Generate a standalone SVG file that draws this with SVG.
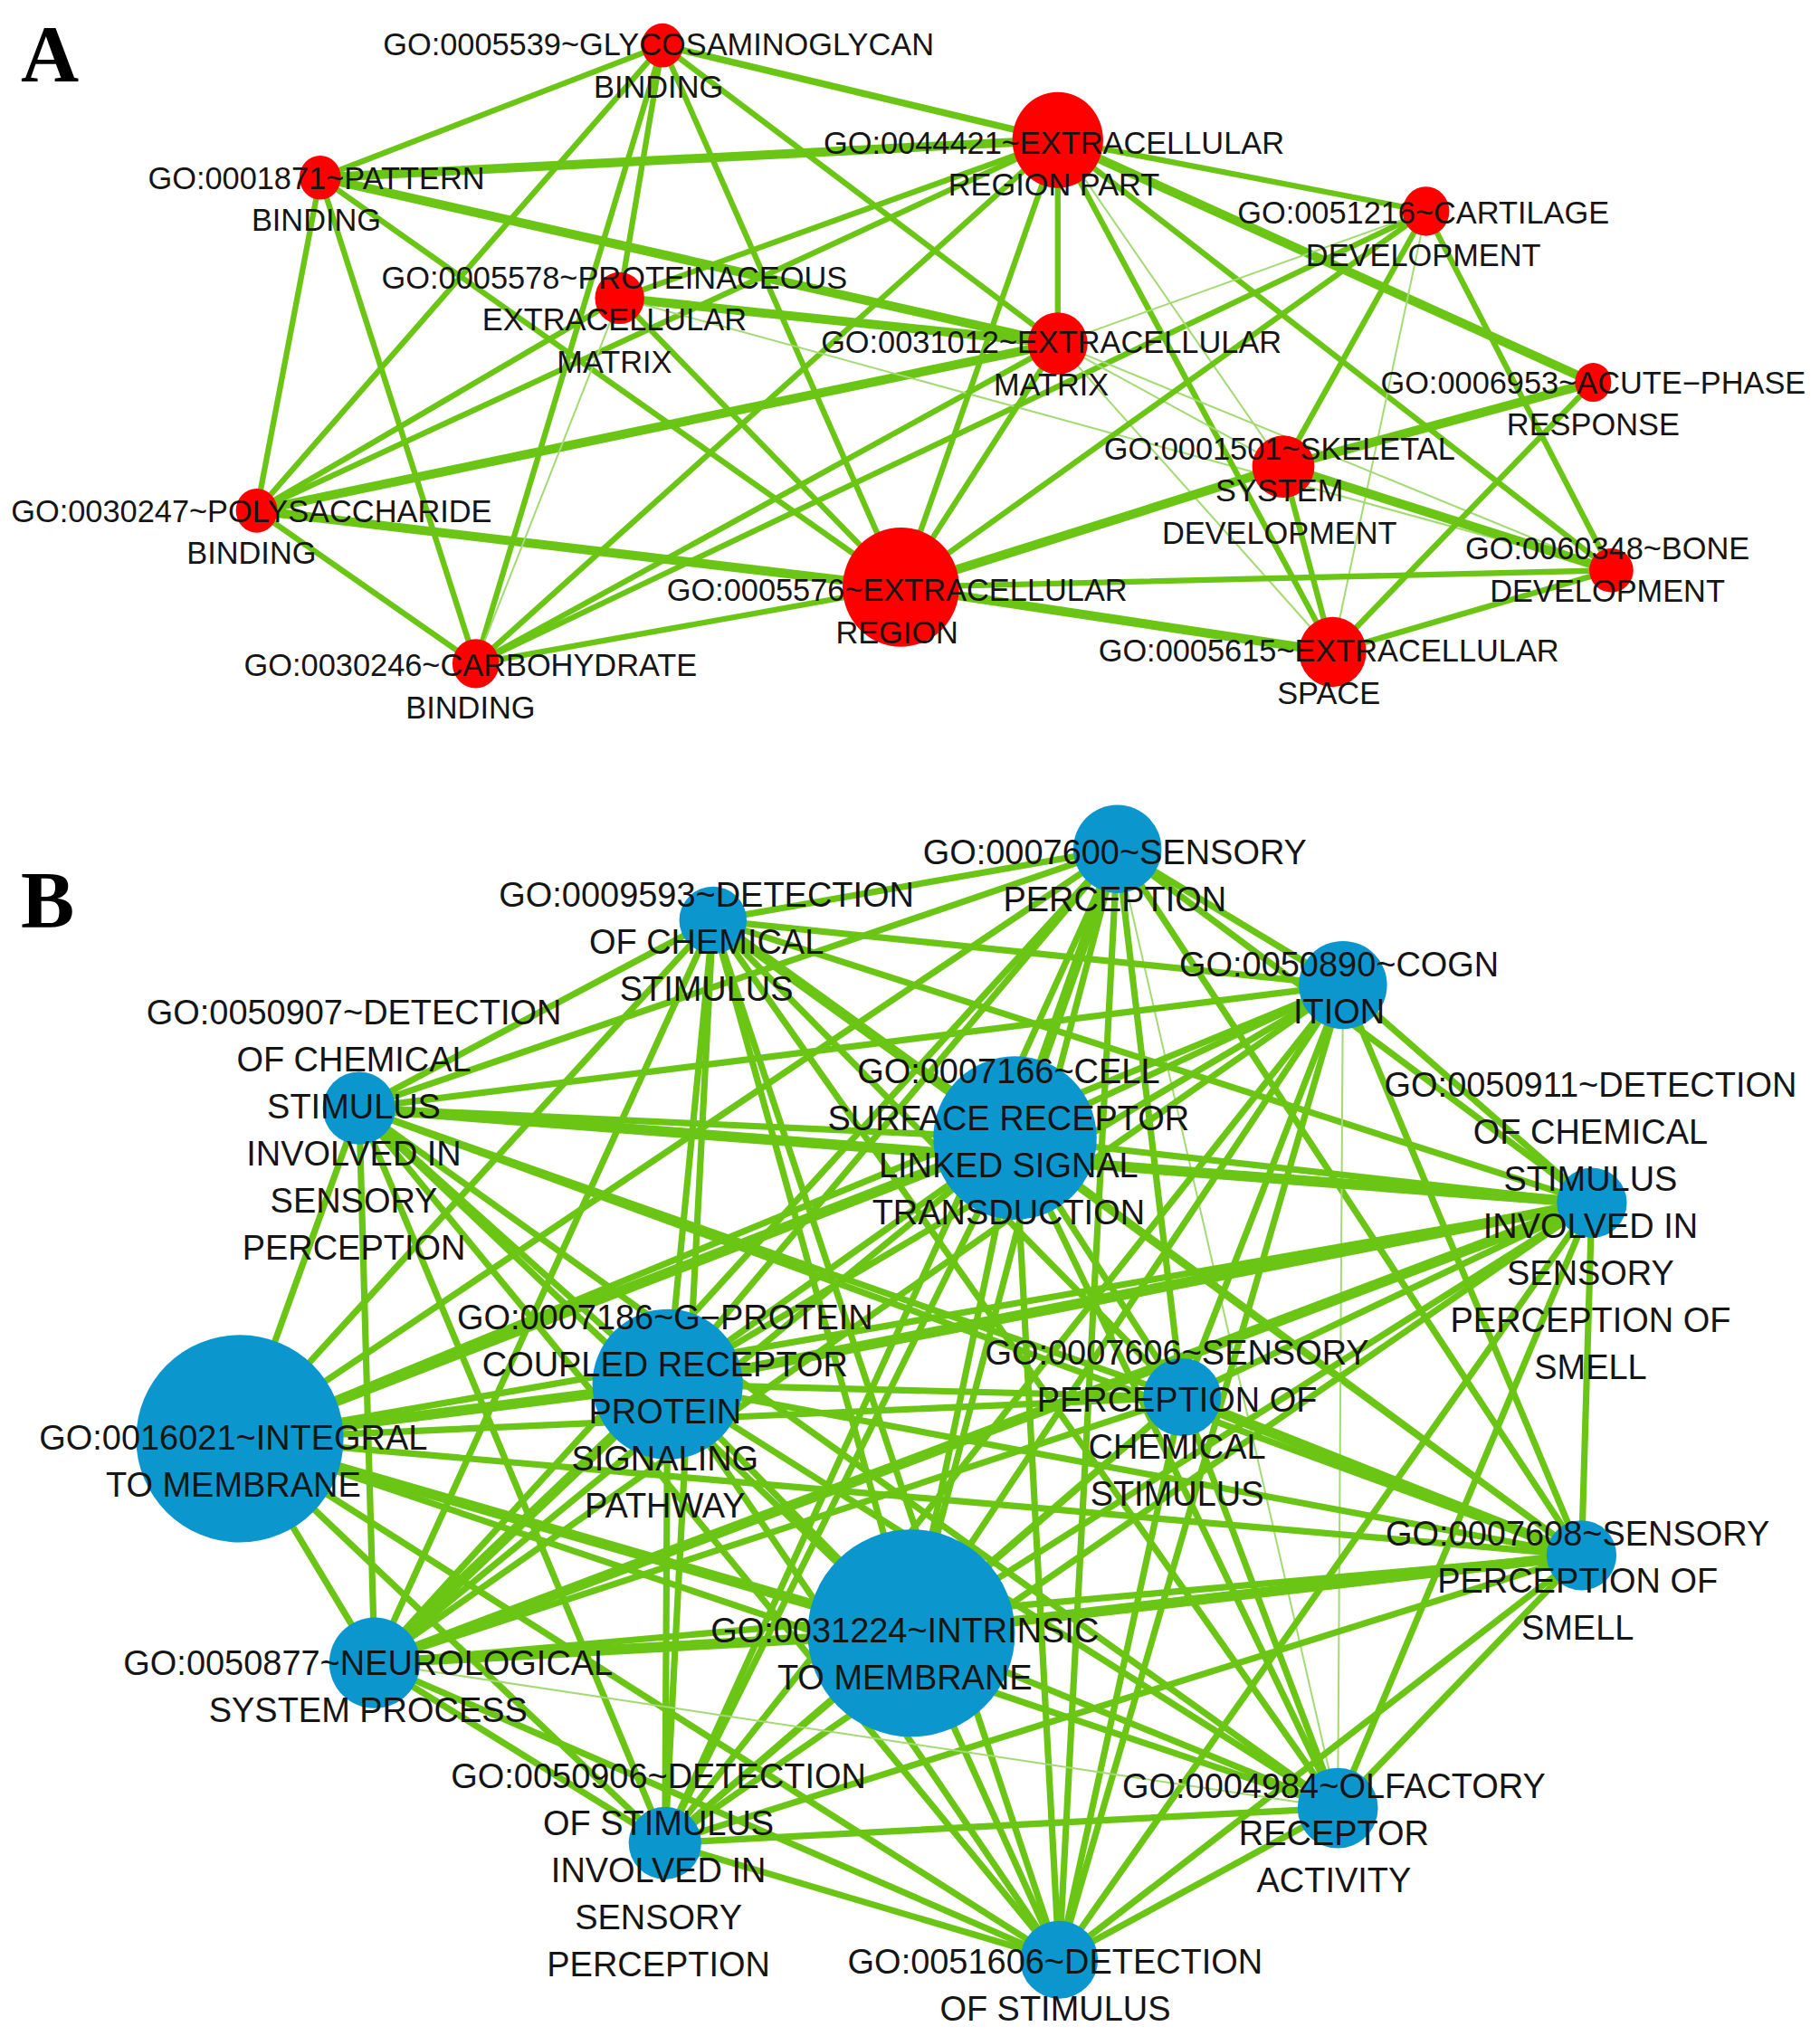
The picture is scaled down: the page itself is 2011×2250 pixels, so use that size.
<svg xmlns="http://www.w3.org/2000/svg" width="2011" height="2250" viewBox="0 0 2011 2250">
<style>
.e{stroke:#6AC515;stroke-linecap:round;fill:none}
.n{stroke-width:4.4}
.w{stroke-width:7}
#edges-b .n{stroke-width:5}
#edges-b .w{stroke-width:8}
.t{stroke-width:1.4;stroke:#A3DA72}
#edges-b .t{stroke-width:1.4}
.ra{fill:#FF0000}
.bl{fill:#0B97CE}
.la{font-family:"Liberation Sans",Arial,Helvetica,sans-serif;font-size:24px;fill:#151515;text-anchor:middle}
.lb{font-family:"Liberation Sans",Arial,Helvetica,sans-serif;font-size:26.5px;fill:#151515;text-anchor:middle}
.pl{font-family:"Liberation Serif","Times New Roman",serif;font-size:62px;font-weight:bold;fill:#000}
</style>
<rect width="2011" height="2250" fill="#FFFFFF"/>
<g transform="scale(1.43234)">
<text class="pl" x="16" y="62">A</text>
<text class="pl" x="16" y="715">B</text>
<g id="connectors">
<g id="edges-a">
<line class="e n" x1="511" y1="35" x2="816" y2="108" style="stroke-width:5.2"/>
<line class="e n" x1="511" y1="35" x2="247" y2="137"/>
<line class="e n" x1="511" y1="35" x2="198" y2="394"/>
<line class="e n" x1="511" y1="35" x2="367" y2="512"/>
<line class="e n" x1="511" y1="35" x2="478" y2="230"/>
<line class="e n" x1="511" y1="35" x2="695" y2="453"/>
<line class="e n" x1="511" y1="35" x2="816" y2="265"/>
<line class="e w" x1="247" y1="137" x2="816" y2="108"/>
<line class="e w" x1="247" y1="137" x2="816" y2="265"/>
<line class="e n" x1="247" y1="137" x2="695" y2="453"/>
<line class="e n" x1="247" y1="137" x2="198" y2="394"/>
<line class="e n" x1="247" y1="137" x2="367" y2="512"/>
<line class="e n" x1="198" y1="394" x2="478" y2="230"/>
<line class="e n" x1="198" y1="394" x2="816" y2="108"/>
<line class="e w" x1="198" y1="394" x2="816" y2="265"/>
<line class="e w" x1="198" y1="394" x2="695" y2="453"/>
<line class="e n" x1="198" y1="394" x2="367" y2="512"/>
<line class="e t" x1="367" y1="512" x2="478" y2="230"/>
<line class="e n" x1="367" y1="512" x2="695" y2="453"/>
<line class="e n" x1="367" y1="512" x2="816" y2="265"/>
<line class="e n" x1="367" y1="512" x2="1100" y2="163"/>
<line class="e n" x1="367" y1="512" x2="816" y2="108"/>
<line class="e w" x1="478" y1="230" x2="816" y2="265"/>
<line class="e n" x1="478" y1="230" x2="695" y2="453"/>
<line class="e t" x1="478" y1="230" x2="1243" y2="440"/>
<line class="e n" x1="478" y1="230" x2="816" y2="108"/>
<line class="e n" x1="816" y1="108" x2="1100" y2="163"/>
<line class="e w" x1="816" y1="108" x2="1229" y2="295"/>
<line class="e n" x1="816" y1="108" x2="816" y2="265"/>
<line class="e n" x1="816" y1="108" x2="695" y2="453"/>
<line class="e n" x1="816" y1="108" x2="1028" y2="503"/>
<line class="e n" x1="816" y1="108" x2="1243" y2="440"/>
<line class="e t" x1="816" y1="108" x2="990" y2="360"/>
<line class="e t" x1="816" y1="265" x2="1100" y2="163"/>
<line class="e t" x1="816" y1="265" x2="1243" y2="440"/>
<line class="e t" x1="816" y1="265" x2="1028" y2="503"/>
<line class="e t" x1="816" y1="265" x2="990" y2="360"/>
<line class="e n" x1="816" y1="265" x2="695" y2="453"/>
<line class="e n" x1="1100" y1="163" x2="990" y2="360"/>
<line class="e t" x1="1100" y1="163" x2="1028" y2="503"/>
<line class="e n" x1="1100" y1="163" x2="1243" y2="440"/>
<line class="e n" x1="1100" y1="163" x2="695" y2="453"/>
<line class="e w" x1="990" y1="360" x2="1229" y2="295"/>
<line class="e w" x1="990" y1="360" x2="695" y2="453"/>
<line class="e w" x1="990" y1="360" x2="1243" y2="440"/>
<line class="e n" x1="990" y1="360" x2="1028" y2="503"/>
<line class="e n" x1="1229" y1="295" x2="1028" y2="503"/>
<line class="e n" x1="695" y1="453" x2="1243" y2="440"/>
<line class="e w" x1="695" y1="453" x2="1028" y2="503"/>
<line class="e n" x1="1028" y1="503" x2="1243" y2="440"/>
</g>
<g id="edges-b">
<line class="e n" x1="862" y1="655" x2="550" y2="710"/>
<line class="e n" x1="862" y1="655" x2="1036" y2="760"/>
<line class="e n" x1="862" y1="655" x2="277" y2="855"/>
<line class="e w" x1="862" y1="655" x2="783" y2="878"/>
<line class="e n" x1="862" y1="655" x2="1228" y2="928"/>
<line class="e n" x1="862" y1="655" x2="515" y2="1068"/>
<line class="e n" x1="862" y1="655" x2="912" y2="1078"/>
<line class="e n" x1="862" y1="655" x2="185" y2="1110"/>
<line class="e n" x1="862" y1="655" x2="1220" y2="1200"/>
<line class="e n" x1="862" y1="655" x2="703" y2="1260"/>
<line class="e n" x1="862" y1="655" x2="289" y2="1283"/>
<line class="e n" x1="862" y1="655" x2="513" y2="1422"/>
<line class="e t" x1="862" y1="655" x2="1032" y2="1395"/>
<line class="e n" x1="862" y1="655" x2="817" y2="1512"/>
<line class="e n" x1="550" y1="710" x2="1036" y2="760"/>
<line class="e n" x1="550" y1="710" x2="277" y2="855"/>
<line class="e w" x1="550" y1="710" x2="783" y2="878"/>
<line class="e n" x1="550" y1="710" x2="1228" y2="928"/>
<line class="e n" x1="550" y1="710" x2="515" y2="1068"/>
<line class="e n" x1="550" y1="710" x2="912" y2="1078"/>
<line class="e n" x1="550" y1="710" x2="185" y2="1110"/>
<line class="e n" x1="550" y1="710" x2="1220" y2="1200"/>
<line class="e n" x1="550" y1="710" x2="703" y2="1260"/>
<line class="e n" x1="550" y1="710" x2="289" y2="1283"/>
<line class="e n" x1="550" y1="710" x2="513" y2="1422"/>
<line class="e n" x1="550" y1="710" x2="1032" y2="1395"/>
<line class="e n" x1="550" y1="710" x2="817" y2="1512"/>
<line class="e n" x1="1036" y1="760" x2="277" y2="855"/>
<line class="e n" x1="1036" y1="760" x2="783" y2="878"/>
<line class="e n" x1="1036" y1="760" x2="1228" y2="928"/>
<line class="e n" x1="1036" y1="760" x2="515" y2="1068"/>
<line class="e n" x1="1036" y1="760" x2="912" y2="1078"/>
<line class="e n" x1="1036" y1="760" x2="185" y2="1110"/>
<line class="e n" x1="1036" y1="760" x2="1220" y2="1200"/>
<line class="e n" x1="1036" y1="760" x2="703" y2="1260"/>
<line class="e n" x1="1036" y1="760" x2="289" y2="1283"/>
<line class="e n" x1="1036" y1="760" x2="513" y2="1422"/>
<line class="e t" x1="1036" y1="760" x2="1032" y2="1395"/>
<line class="e n" x1="1036" y1="760" x2="817" y2="1512"/>
<line class="e n" x1="277" y1="855" x2="783" y2="878"/>
<line class="e w" x1="277" y1="855" x2="1228" y2="928"/>
<line class="e n" x1="277" y1="855" x2="515" y2="1068"/>
<line class="e n" x1="277" y1="855" x2="912" y2="1078"/>
<line class="e n" x1="277" y1="855" x2="185" y2="1110"/>
<line class="e n" x1="277" y1="855" x2="1220" y2="1200"/>
<line class="e n" x1="277" y1="855" x2="703" y2="1260"/>
<line class="e n" x1="277" y1="855" x2="289" y2="1283"/>
<line class="e n" x1="277" y1="855" x2="513" y2="1422"/>
<line class="e n" x1="277" y1="855" x2="1032" y2="1395"/>
<line class="e n" x1="277" y1="855" x2="817" y2="1512"/>
<line class="e n" x1="783" y1="878" x2="1228" y2="928"/>
<line class="e n" x1="783" y1="878" x2="515" y2="1068"/>
<line class="e n" x1="783" y1="878" x2="912" y2="1078"/>
<line class="e w" x1="783" y1="878" x2="185" y2="1110"/>
<line class="e n" x1="783" y1="878" x2="1220" y2="1200"/>
<line class="e n" x1="783" y1="878" x2="703" y2="1260"/>
<line class="e n" x1="783" y1="878" x2="289" y2="1283"/>
<line class="e n" x1="783" y1="878" x2="513" y2="1422"/>
<line class="e n" x1="783" y1="878" x2="1032" y2="1395"/>
<line class="e n" x1="783" y1="878" x2="817" y2="1512"/>
<line class="e w" x1="1228" y1="928" x2="515" y2="1068"/>
<line class="e n" x1="1228" y1="928" x2="912" y2="1078"/>
<line class="e n" x1="1228" y1="928" x2="185" y2="1110"/>
<line class="e n" x1="1228" y1="928" x2="1220" y2="1200"/>
<line class="e n" x1="1228" y1="928" x2="703" y2="1260"/>
<line class="e w" x1="1228" y1="928" x2="289" y2="1283"/>
<line class="e n" x1="1228" y1="928" x2="513" y2="1422"/>
<line class="e n" x1="1228" y1="928" x2="1032" y2="1395"/>
<line class="e n" x1="1228" y1="928" x2="817" y2="1512"/>
<line class="e n" x1="515" y1="1068" x2="912" y2="1078"/>
<line class="e w" x1="515" y1="1068" x2="185" y2="1110"/>
<line class="e n" x1="515" y1="1068" x2="1220" y2="1200"/>
<line class="e n" x1="515" y1="1068" x2="703" y2="1260"/>
<line class="e w" x1="515" y1="1068" x2="289" y2="1283"/>
<line class="e n" x1="515" y1="1068" x2="513" y2="1422"/>
<line class="e n" x1="515" y1="1068" x2="1032" y2="1395"/>
<line class="e n" x1="515" y1="1068" x2="817" y2="1512"/>
<line class="e n" x1="912" y1="1078" x2="185" y2="1110"/>
<line class="e w" x1="912" y1="1078" x2="1220" y2="1200"/>
<line class="e n" x1="912" y1="1078" x2="703" y2="1260"/>
<line class="e n" x1="912" y1="1078" x2="289" y2="1283"/>
<line class="e n" x1="912" y1="1078" x2="513" y2="1422"/>
<line class="e n" x1="912" y1="1078" x2="1032" y2="1395"/>
<line class="e n" x1="912" y1="1078" x2="817" y2="1512"/>
<line class="e n" x1="185" y1="1110" x2="1220" y2="1200"/>
<line class="e w" x1="185" y1="1110" x2="703" y2="1260"/>
<line class="e n" x1="185" y1="1110" x2="289" y2="1283"/>
<line class="e n" x1="185" y1="1110" x2="513" y2="1422"/>
<line class="e n" x1="185" y1="1110" x2="1032" y2="1395"/>
<line class="e n" x1="185" y1="1110" x2="817" y2="1512"/>
<line class="e w" x1="1220" y1="1200" x2="703" y2="1260"/>
<line class="e n" x1="1220" y1="1200" x2="289" y2="1283"/>
<line class="e n" x1="1220" y1="1200" x2="513" y2="1422"/>
<line class="e n" x1="1220" y1="1200" x2="1032" y2="1395"/>
<line class="e n" x1="1220" y1="1200" x2="817" y2="1512"/>
<line class="e w" x1="703" y1="1260" x2="289" y2="1283"/>
<line class="e n" x1="703" y1="1260" x2="513" y2="1422"/>
<line class="e n" x1="703" y1="1260" x2="1032" y2="1395"/>
<line class="e n" x1="703" y1="1260" x2="817" y2="1512"/>
<line class="e n" x1="289" y1="1283" x2="513" y2="1422"/>
<line class="e t" x1="289" y1="1283" x2="1032" y2="1395"/>
<line class="e n" x1="289" y1="1283" x2="817" y2="1512"/>
<line class="e n" x1="513" y1="1422" x2="1032" y2="1395"/>
<line class="e n" x1="513" y1="1422" x2="817" y2="1512"/>
<line class="e n" x1="1032" y1="1395" x2="817" y2="1512"/>
</g>
</g>
<g id="node-a1"><ellipse class="ra" cx="511" cy="35" rx="16" ry="17"/><text class="la" x="508" y="42.6"><tspan x="508">GO:0005539~GLYCOSAMINOGLYCAN</tspan><tspan x="508" dy="32.5">BINDING</tspan></text></g>
<g id="node-a2"><ellipse class="ra" cx="816" cy="108" rx="35" ry="37"/><text class="la" x="813" y="118.6"><tspan x="813">GO:0044421~EXTRACELLULAR</tspan><tspan x="813" dy="32.5">REGION PART</tspan></text></g>
<g id="node-a3"><ellipse class="ra" cx="247" cy="137" rx="16" ry="17"/><text class="la" x="244" y="145.6"><tspan x="244">GO:0001871~PATTERN</tspan><tspan x="244" dy="32.5">BINDING</tspan></text></g>
<g id="node-a4"><ellipse class="ra" cx="1100" cy="163" rx="18" ry="19"/><text class="la" x="1098" y="172.6"><tspan x="1098">GO:0051216~CARTILAGE</tspan><tspan x="1098" dy="32.5">DEVELOPMENT</tspan></text></g>
<g id="node-a5"><ellipse class="ra" cx="478" cy="230" rx="19" ry="20"/><text class="la" x="474" y="222.6"><tspan x="474">GO:0005578~PROTEINACEOUS</tspan><tspan x="474" dy="32.5">EXTRACELLULAR</tspan><tspan x="474" dy="32.5">MATRIX</tspan></text></g>
<g id="node-a6"><ellipse class="ra" cx="816" cy="265" rx="23" ry="24"/><text class="la" x="811" y="272.6"><tspan x="811">GO:0031012~EXTRACELLULAR</tspan><tspan x="811" dy="32.5">MATRIX</tspan></text></g>
<g id="node-a7"><ellipse class="ra" cx="1229" cy="295" rx="14" ry="15"/><text class="la" x="1229" y="303.6"><tspan x="1229">GO:0006953~ACUTE−PHASE</tspan><tspan x="1229" dy="32.5">RESPONSE</tspan></text></g>
<g id="node-a8"><ellipse class="ra" cx="990" cy="360" rx="24" ry="24"/><text class="la" x="987" y="354.6"><tspan x="987">GO:0001501~SKELETAL</tspan><tspan x="987" dy="32.5">SYSTEM</tspan><tspan x="987" dy="32.5">DEVELOPMENT</tspan></text></g>
<g id="node-a9"><ellipse class="ra" cx="198" cy="394" rx="16" ry="17"/><text class="la" x="194" y="402.6"><tspan x="194">GO:0030247~POLYSACCHARIDE</tspan><tspan x="194" dy="32.5">BINDING</tspan></text></g>
<g id="node-a10"><ellipse class="ra" cx="1243" cy="440" rx="17" ry="17"/><text class="la" x="1240" y="431.6"><tspan x="1240">GO:0060348~BONE</tspan><tspan x="1240" dy="32.5">DEVELOPMENT</tspan></text></g>
<g id="node-a11"><ellipse class="ra" cx="695" cy="453" rx="45" ry="46"/><text class="la" x="692" y="463.6"><tspan x="692">GO:0005576~EXTRACELLULAR</tspan><tspan x="692" dy="32.5">REGION</tspan></text></g>
<g id="node-a12"><ellipse class="ra" cx="1028" cy="503" rx="26" ry="27"/><text class="la" x="1025" y="510.6"><tspan x="1025">GO:0005615~EXTRACELLULAR</tspan><tspan x="1025" dy="32.5">SPACE</tspan></text></g>
<g id="node-a13"><ellipse class="ra" cx="367" cy="512" rx="18" ry="19"/><text class="la" x="363" y="521.6"><tspan x="363">GO:0030246~CARBOHYDRATE</tspan><tspan x="363" dy="32.5">BINDING</tspan></text></g>
<g id="node-b1"><ellipse class="bl" cx="862" cy="655" rx="34" ry="34"/><text class="lb" x="860" y="666.5"><tspan x="860">GO:0007600~SENSORY</tspan><tspan x="860" dy="36.3">PERCEPTION</tspan></text></g>
<g id="node-b2"><ellipse class="bl" cx="550" cy="710" rx="26" ry="26"/><text class="lb" x="545" y="699.5"><tspan x="545">GO:0009593~DETECTION</tspan><tspan x="545" dy="36.3">OF CHEMICAL</tspan><tspan x="545" dy="36.3">STIMULUS</tspan></text></g>
<g id="node-b3"><ellipse class="bl" cx="1036" cy="760" rx="34" ry="34"/><text class="lb" x="1033" y="753.5"><tspan x="1033">GO:0050890~COGN</tspan><tspan x="1033" dy="36.3">ITION</tspan></text></g>
<g id="node-b4"><ellipse class="bl" cx="277" cy="855" rx="28" ry="28"/><text class="lb" x="273" y="790.5"><tspan x="273">GO:0050907~DETECTION</tspan><tspan x="273" dy="36.3">OF CHEMICAL</tspan><tspan x="273" dy="36.3">STIMULUS</tspan><tspan x="273" dy="36.3">INVOLVED IN</tspan><tspan x="273" dy="36.3">SENSORY</tspan><tspan x="273" dy="36.3">PERCEPTION</tspan></text></g>
<g id="node-b5"><ellipse class="bl" cx="783" cy="878" rx="63" ry="63"/><text class="lb" x="778" y="835.5"><tspan x="778">GO:0007166~CELL</tspan><tspan x="778" dy="36.3">SURFACE RECEPTOR</tspan><tspan x="778" dy="36.3">LINKED SIGNAL</tspan><tspan x="778" dy="36.3">TRANSDUCTION</tspan></text></g>
<g id="node-b6"><ellipse class="bl" cx="1228" cy="928" rx="27" ry="27"/><text class="lb" x="1227" y="846.5"><tspan x="1227">GO:0050911~DETECTION</tspan><tspan x="1227" dy="36.3">OF CHEMICAL</tspan><tspan x="1227" dy="36.3">STIMULUS</tspan><tspan x="1227" dy="36.3">INVOLVED IN</tspan><tspan x="1227" dy="36.3">SENSORY</tspan><tspan x="1227" dy="36.3">PERCEPTION OF</tspan><tspan x="1227" dy="36.3">SMELL</tspan></text></g>
<g id="node-b7"><ellipse class="bl" cx="515" cy="1068" rx="58" ry="58"/><text class="lb" x="513" y="1025.5"><tspan x="513">GO:0007186~G−PROTEIN</tspan><tspan x="513" dy="36.3">COUPLED RECEPTOR</tspan><tspan x="513" dy="36.3">PROTEIN</tspan><tspan x="513" dy="36.3">SIGNALING</tspan><tspan x="513" dy="36.3">PATHWAY</tspan></text></g>
<g id="node-b8"><ellipse class="bl" cx="912" cy="1078" rx="30" ry="30"/><text class="lb" x="908" y="1052.5"><tspan x="908">GO:0007606~SENSORY</tspan><tspan x="908" dy="36.3">PERCEPTION OF</tspan><tspan x="908" dy="36.3">CHEMICAL</tspan><tspan x="908" dy="36.3">STIMULUS</tspan></text></g>
<g id="node-b9"><ellipse class="bl" cx="185" cy="1110" rx="80" ry="80"/><text class="lb" x="180" y="1118.5"><tspan x="180">GO:0016021~INTEGRAL</tspan><tspan x="180" dy="36.3">TO MEMBRANE</tspan></text></g>
<g id="node-b10"><ellipse class="bl" cx="1220" cy="1200" rx="27" ry="27"/><text class="lb" x="1217" y="1192.5"><tspan x="1217">GO:0007608~SENSORY</tspan><tspan x="1217" dy="36.3">PERCEPTION OF</tspan><tspan x="1217" dy="36.3">SMELL</tspan></text></g>
<g id="node-b11"><ellipse class="bl" cx="703" cy="1260" rx="80" ry="80"/><text class="lb" x="698" y="1267.5"><tspan x="698">GO:0031224~INTRINSIC</tspan><tspan x="698" dy="36.3">TO MEMBRANE</tspan></text></g>
<g id="node-b12"><ellipse class="bl" cx="289" cy="1283" rx="35" ry="35"/><text class="lb" x="284" y="1292.5"><tspan x="284">GO:0050877~NEUROLOGICAL</tspan><tspan x="284" dy="36.3">SYSTEM PROCESS</tspan></text></g>
<g id="node-b13"><ellipse class="bl" cx="513" cy="1422" rx="28" ry="28"/><text class="lb" x="508" y="1379.5"><tspan x="508">GO:0050906~DETECTION</tspan><tspan x="508" dy="36.3">OF STIMULUS</tspan><tspan x="508" dy="36.3">INVOLVED IN</tspan><tspan x="508" dy="36.3">SENSORY</tspan><tspan x="508" dy="36.3">PERCEPTION</tspan></text></g>
<g id="node-b14"><ellipse class="bl" cx="1032" cy="1395" rx="31" ry="31"/><text class="lb" x="1029" y="1387.5"><tspan x="1029">GO:0004984~OLFACTORY</tspan><tspan x="1029" dy="36.3">RECEPTOR</tspan><tspan x="1029" dy="36.3">ACTIVITY</tspan></text></g>
<g id="node-b15"><ellipse class="bl" cx="817" cy="1512" rx="30" ry="30"/><text class="lb" x="814" y="1522.5"><tspan x="814">GO:0051606~DETECTION</tspan><tspan x="814" dy="36.3">OF STIMULUS</tspan></text></g>
</g>
</svg>
